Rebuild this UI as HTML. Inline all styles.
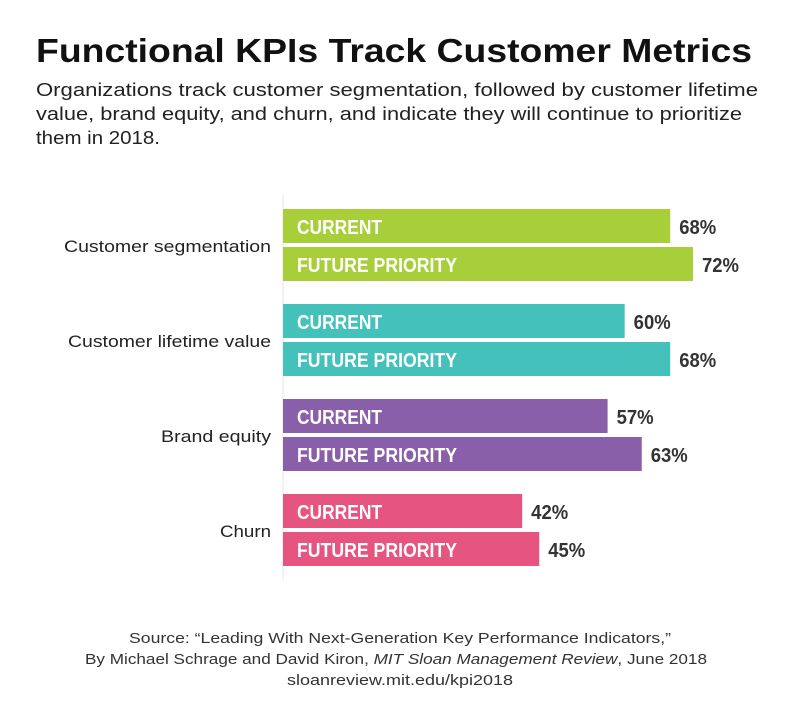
<!DOCTYPE html>
<html><head><meta charset="utf-8"><style>
body{margin:0;background:#fff;width:800px;height:720px;overflow:hidden;font-family:"Liberation Sans",sans-serif}
</style></head><body>
<svg width="800" height="720" xmlns="http://www.w3.org/2000/svg">
<text x="36" y="62" font-size="33" font-weight="bold" fill="#111" textLength="716" lengthAdjust="spacingAndGlyphs">Functional KPIs Track Customer Metrics</text>
<g font-size="18.5" fill="#222">
<text x="36" y="96" textLength="722" lengthAdjust="spacingAndGlyphs">Organizations track customer segmentation, followed by customer lifetime</text>
<text x="36" y="120" textLength="706" lengthAdjust="spacingAndGlyphs">value, brand equity, and churn, and indicate they will continue to prioritize</text>
<text x="36" y="144" textLength="124" lengthAdjust="spacingAndGlyphs">them in 2018.</text>
</g>
<line x1="283" y1="195" x2="283" y2="580" stroke="#e4e4e4" stroke-width="1"/>
<g id="bars"></g>
<g font-size="14.5" fill="#333">
<text x="129" y="643" textLength="542" lengthAdjust="spacingAndGlyphs">Source: “Leading With Next-Generation Key Performance Indicators,”</text>
<text x="85" y="664" textLength="622" lengthAdjust="spacingAndGlyphs">By Michael Schrage and David Kiron, <tspan font-style="italic">MIT Sloan Management Review</tspan>, June 2018</text>
<text x="287" y="685" textLength="226" lengthAdjust="spacingAndGlyphs">sloanreview.mit.edu/kpi2018</text>
</g>
</svg>
<script>
const categories=["Customer segmentation","Customer lifetime value","Brand equity","Churn"];
const currentValues=[68,60,57,42];
const futureValues=[72,68,63,45];
const seriesLabels=["CURRENT","FUTURE PRIORITY"];
const colors=["#a8cf3a","#45c1bc","#8a5fa9","#e5557f"];
const catWidths=[207,203,110,51];
const labelWidths=[85,160];
const NS="http://www.w3.org/2000/svg";
const x0=283, pxPer=(693-283)/72;
function xs(v){return x0+v*pxPer;}
function yGroup(i){return 209+i*95;}
const g=document.getElementById('bars');
function mk(t,a){const e=document.createElementNS(NS,t);for(const k in a)e.setAttribute(k,a[k]);return e;}
categories.forEach((c,i)=>{
  const cl=mk('text',{x:271-catWidths[i],y:yGroup(i)+43,'font-size':'17',fill:'#222',textLength:catWidths[i],lengthAdjust:'spacingAndGlyphs'});
  cl.textContent=c;
  
  
  g.appendChild(cl);
  [currentValues[i],futureValues[i]].forEach((v,j)=>{
    const y=yGroup(i)+j*38;
    const r=mk('rect',{x:x0,y:y,width:xs(v)-x0,height:34,fill:colors[i]});
    
    
    g.appendChild(r);
    const lt=mk('text',{x:297,y:y+25,'font-size':'20','font-weight':'bold',fill:'#fff',textLength:labelWidths[j],lengthAdjust:'spacingAndGlyphs'});
    lt.textContent=seriesLabels[j];
    
    
    g.appendChild(lt);
    const vt=mk('text',{x:xs(v)+9,y:y+25,'font-size':'20','font-weight':'bold',fill:'#333',textLength:37,lengthAdjust:'spacingAndGlyphs'});
    vt.textContent=v+'%';
    
    
    g.appendChild(vt);
  });
});
</script>
</body></html>
